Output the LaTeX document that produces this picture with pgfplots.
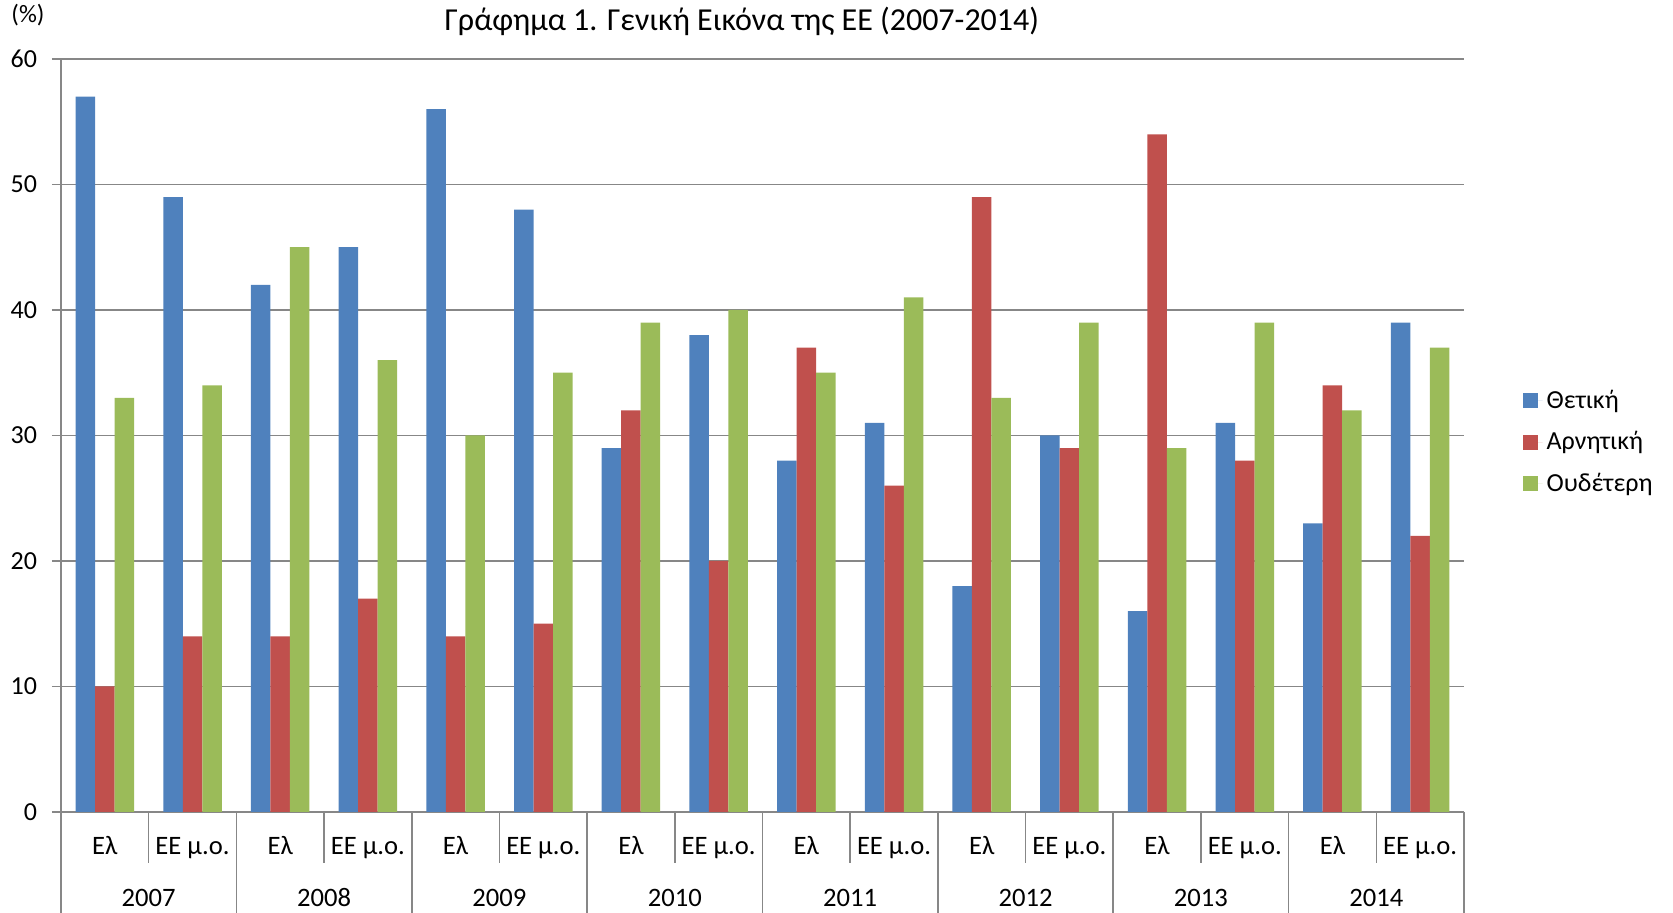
\documentclass[border=0pt]{standalone}
\usepackage{pgfplots}
\usepackage{pgfplotstable}
\pgfplotsset{compat=1.18}
\usepackage{fontspec}
\setmainfont{Carlito}
\definecolor{cBlue}{HTML}{4F81BD}
\definecolor{cRed}{HTML}{C0504D}
\definecolor{cGreen}{HTML}{9BBB59}
\definecolor{cGrid}{HTML}{878787}

\pgfplotstableread{
x pos neg neu
0 57 10 33
1 49 14 34
2 42 14 45
3 45 17 36
4 56 14 30
5 48 15 35
6 29 32 39
7 38 20 40
8 28 37 35
9 31 26 41
10 18 49 33
11 30 29 39
12 16 54 29
13 31 28 39
14 23 34 32
15 39 22 37
}\data

\begin{document}
\begin{tikzpicture}
\useasboundingbox (-30.5pt,-50.5pt) rectangle (806pt,406pt);
\begin{axis}[
  scale only axis, width=701.5pt, height=376.5pt,
  xmin=-0.5, xmax=15.5, ymin=0, ymax=60,
  ytick={0,10,...,60},
  xtick={0,...,15},
  xticklabels={Ελ,ΕΕ μ.ο.,Ελ,ΕΕ μ.ο.,Ελ,ΕΕ μ.ο.,Ελ,ΕΕ μ.ο.,Ελ,ΕΕ μ.ο.,Ελ,ΕΕ μ.ο.,Ελ,ΕΕ μ.ο.,Ελ,ΕΕ μ.ο.},
  axis x line*=bottom, axis y line*=left,
  axis line style={cGrid, line width=0.8pt},
  ymajorgrids, grid style={cGrid, line width=0.8pt},
  tick align=outside, major tick length=4.5pt,
  xtick style={draw=none},
  ytick style={cGrid, line width=0.8pt},
  /pgf/number format/assume math mode=true,
  yticklabel style={font=\fontsize{13}{15}\selectfont, xshift=-4pt},
  xticklabel style={font=\fontsize{13.3}{15}\selectfont, anchor=center, text height=0.7em, text depth=0.25em, yshift=-14.3pt},
  clip=false,
  ybar, bar width=9.75pt,
  legend style={at={(1.0421,0.491)}, anchor=west, draw=none, fill=none,
    font=\fontsize{13}{15}\selectfont, row sep=6pt, inner sep=0pt,
    cells={anchor=west}},
  legend image code/.code={\fill[#1] (0pt,-3.75pt) rectangle (7.5pt,3.75pt); \path (0pt,0pt) -- (9.6pt,0pt);},
]
\addplot[fill=cBlue, draw=none, bar shift=-9.75pt] table[x=x, y=pos] {\data};
\addplot[fill=cRed, draw=none, bar shift=0pt] table[x=x, y=neg] {\data};
\addplot[fill=cGreen, draw=none, bar shift=9.75pt] table[x=x, y=neu] {\data};
\legend{Θετική, Αρνητική, Ουδέτερη}
\pgfplotsinvokeforeach{-0.5,1.5,3.5,5.5,7.5,9.5,11.5,13.5,15.5}{
  \draw[cGrid, line width=0.8pt] (axis cs:#1,0) -- ++(0pt,-50.5pt);
}
\pgfplotsinvokeforeach{0.5,2.5,4.5,6.5,8.5,10.5,12.5,14.5}{
  \draw[cGrid, line width=0.8pt] (axis cs:#1,0) -- ++(0pt,-25.5pt);
}
\node[font=\fontsize{13.3}{15}\selectfont] at (axis cs:0.5,0) [yshift=-43pt] {2007};
\node[font=\fontsize{13.3}{15}\selectfont] at (axis cs:2.5,0) [yshift=-43pt] {2008};
\node[font=\fontsize{13.3}{15}\selectfont] at (axis cs:4.5,0) [yshift=-43pt] {2009};
\node[font=\fontsize{13.3}{15}\selectfont] at (axis cs:6.5,0) [yshift=-43pt] {2010};
\node[font=\fontsize{13.3}{15}\selectfont] at (axis cs:8.5,0) [yshift=-43pt] {2011};
\node[font=\fontsize{13.3}{15}\selectfont] at (axis cs:10.5,0) [yshift=-43pt] {2012};
\node[font=\fontsize{13.3}{15}\selectfont] at (axis cs:12.5,0) [yshift=-43pt] {2013};
\node[font=\fontsize{13.3}{15}\selectfont] at (axis cs:14.5,0) [yshift=-43pt] {2014};
\node[font=\fontsize{12.5}{14}\selectfont] at (rel axis cs:0,1) [xshift=-16.5pt, yshift=22pt] {(\%)};
\node[font=\fontsize{16}{18}\selectfont] at (rel axis cs:0.4853,1) [yshift=19pt] {Γράφημα 1. Γενική Εικόνα της ΕΕ (2007-2014)};
\end{axis}
\end{tikzpicture}
\end{document}
